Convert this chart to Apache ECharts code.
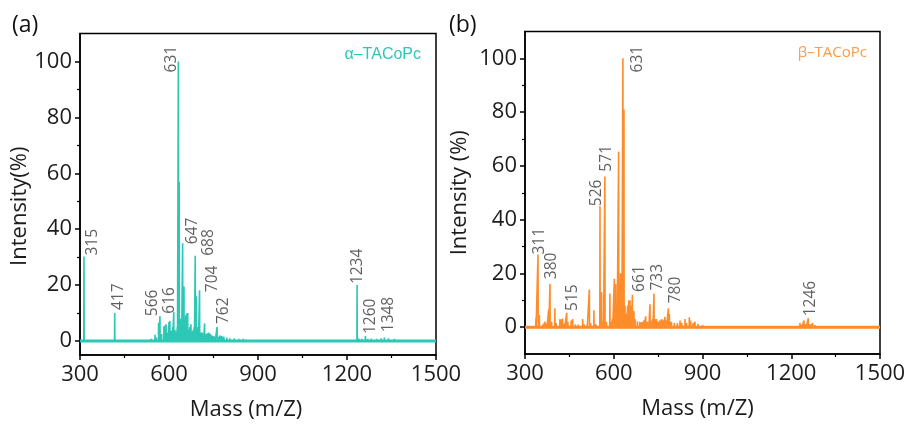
<!DOCTYPE html>
<html>
<head>
<meta charset="utf-8">
<script src="https://cdn.jsdelivr.net/npm/echarts@6/dist/echarts.min.js"></script>
<style>
  html, body { margin: 0; padding: 0; background: #fff; }
  #chart { width: 911px; height: 426px; }
</style>
</head>
<body>
<div id="chart"></div>
<script>
// MALDI-TOF mass spectra of the two tetra-amino cobalt phthalocyanines

// x-axis: mass range and labelled ticks
const massMin = 300;
const massMax = 1500;
const massTicks = [300, 600, 900, 1200, 1500];
// y-axis ticks (%)
const intensityTicks = [0, 20, 40, 60, 80, 100];
const intensityMinor = [10, 30, 50, 70, 90];

// (a) alpha isomer: peak positions (m/z) and relative intensity (%)
const alphaMass = [313.5, 325, 345, 380, 417, 430, 470, 500, 540, 553, 557, 565, 569.5, 575, 583, 587, 590, 596, 600, 603, 609, 612, 616, 620, 624, 628, 631.5, 634.5, 638, 642, 646, 650.5, 654, 657, 660, 663, 667, 670, 674, 678, 682, 685, 688.5, 692, 696, 699, 703, 707, 712, 716, 720, 725, 730, 735, 740, 745, 750, 755, 762, 767, 772, 778, 785, 795, 805, 820, 835, 850, 870, 890, 910, 950, 1190, 1210, 1225, 1234, 1240, 1250, 1262, 1270, 1282, 1300, 1315, 1326, 1340, 1360, 1380, 1400];
const alphaIntensity = [30.2, 0.6, 0.5, 0.5, 10, 0.5, 0.6, 0.6, 0.8, 2.2, 1.2, 6.5, 8.9, 2.5, 5.3, 5.5, 6, 3, 6.8, 7.2, 3.5, 5, 10.5, 4, 3, 5, 100, 57, 8, 4, 35, 19.5, 8, 9.2, 9.8, 10, 4, 5, 6, 3.5, 4, 5, 30.5, 16, 5, 3, 18.2, 3, 3, 2, 6.3, 2.5, 2.8, 3, 2.5, 2, 1.8, 1.5, 5, 1.5, 2, 1.8, 1.5, 1.2, 1, 1, 0.8, 0.8, 0.7, 0.6, 0.5, 0.4, 0.5, 0.6, 0.7, 20, 0.8, 0.8, 1.8, 0.8, 0.9, 0.8, 1, 1.2, 1, 0.8, 0.7, 0.6];
// annotated peaks of (a): which peak, and the text written beside it
const alphaLabelMass = [313.5, 417, 569.5, 616, 631.5, 646, 688.5, 703, 762, 1234, 1262, 1340];
const alphaLabelText = ['315', '417', '566', '616', '631', '647', '688', '704', '762', '1234', '1260', '1348'];

// (b) beta isomer: peak positions (m/z) and relative intensity (%)
const betaMass = [325, 337, 344, 348.5, 360, 367.5, 374, 380, 384.5, 390, 401, 405, 418, 422, 427, 434, 441, 445, 456, 461, 470, 480, 495, 500, 510, 517.5, 522, 533, 540, 553.5, 559, 565, 570, 575, 587, 590, 596, 602, 606.5, 611, 616.5, 619.5, 623, 627, 631, 634.5, 638, 643, 647, 651, 655, 659, 663, 668, 672, 680, 688, 695, 702, 708, 713, 718, 722.5, 727, 732, 736, 740, 745, 752, 756, 762, 768, 773, 778, 784.5, 788, 795, 805, 815, 824, 830, 841, 846, 855.5, 860, 868, 874.5, 885, 900, 920, 980, 1075, 1085, 1229.6, 1236, 1243, 1250, 1257.7, 1265, 1272, 1280, 1360, 1415];
const betaIntensity = [0.6, 3.5, 27, 4.5, 1, 2, 1.2, 6.5, 16, 2, 7, 1.5, 3, 2.8, 3.2, 1.2, 5.3, 2, 2.5, 3, 1, 1, 3, 1, 1, 14, 1.5, 6.3, 1, 45, 13, 2, 56, 2, 12.5, 2, 3, 18, 16, 3, 65.3, 4, 20, 3, 100, 81, 8, 5, 8, 10, 10, 8, 12, 6, 3, 2.2, 2, 1.8, 2.5, 4, 2, 1.8, 8.5, 2.5, 3, 12.5, 3, 3, 2, 2.5, 3, 2.5, 3.8, 2.5, 7, 5, 2, 1.5, 1.5, 2.5, 1.5, 3, 1.5, 3.7, 2.5, 1.5, 2, 1.2, 0.8, 0.6, 0.4, 0.5, 0.5, 1.5, 0.8, 2.5, 1, 3.3, 1, 1.5, 0.8, 0.5, 0.5];
const betaLabelMass = [344, 384.5, 441, 553.5, 570, 631, 663, 736, 784.5, 1257.7];
const betaLabelText = ['311', '380', '515', '526', '571', '631', '661', '733', '780', '1246'];

// label nudges in pixels [right, down] from the top of each annotated peak
const alphaLabelNudge = [[9, -1], [4, -3], [-7, 0], [-4, 2], [-7, 11], [10, 1], [13, 0], [13, 2], [7, -3], [0, -1], [5, -2], [0, -6]];
const betaLabelNudge = [[2, 0], [2, -5], [6, -2], [-3, 0], [2, -5], [15, 14], [7, -3], [4, -3], [7, -5], [2, -2]];

const TEAL = '#2dc7b6';
const ORANGE = '#ff8c2b';
const FONT = '"Open Sans", "DejaVu Sans", sans-serif';
const INK = '#1c1c1c';

// turn a peak list into a stick spectrum (each peak rises from and returns to zero)
function stickSpectrum(mass, inten) {
  const pts = [[massMin, 0]];
  for (let i = 0; i < mass.length; i++) {
    pts.push([mass[i] - 0.6, 0], [mass[i], inten[i]], [mass[i] + 0.6, 0]);
  }
  pts.push([massMax, 0]);
  return pts;
}

function peakLabels(labelMass, labelText, nudge, mass, inten) {
  return labelMass.map((m, i) => {
    const h = inten[mass.indexOf(m)];
    const d = nudge[i];
    return {
      value: [m, h],
      name: labelText[i],
      // offset is applied in the rotated frame of the label
      label: { offset: [-d[1], d[0]] }
    };
  });
}

function xAxisFor(gridIndex, namePad) {
  return {
    type: 'value', gridIndex, min: massMin, max: massMax, interval: 300,
    name: 'Mass (m/Z)', nameLocation: 'middle', nameGap: 44,
    nameTextStyle: { fontFamily: FONT, fontSize: 22, color: INK, padding: namePad },
    axisLine: { show: true, onZero: false, lineStyle: { color: '#000', width: 1.5 } },
    axisTick: { show: true, inside: false, length: 5, lineStyle: { color: '#000', width: 1.5 } },
    minorTick: { show: true, splitNumber: 2, length: 3, lineStyle: { color: '#000', width: 1.2 } },
    axisLabel: { fontFamily: FONT, fontSize: 22, color: INK, margin: 9,
      customValues: massTicks, formatter: v => String(v) },
    splitLine: { show: false }, minorSplitLine: { show: false }
  };
}

function yAxisFor(gridIndex, yMin, name, gap, namePad) {
  return [{
    type: 'value', gridIndex, min: yMin, max: 110,
    name, nameLocation: 'middle', nameGap: gap,
    nameTextStyle: { fontFamily: FONT, fontSize: 22, color: INK, padding: namePad },
    axisLine: { show: true, onZero: false, lineStyle: { color: '#000', width: 1.5 } },
    axisTick: { show: true, inside: false, length: 5, customValues: intensityTicks,
      lineStyle: { color: '#000', width: 1.5 } },
    axisLabel: { fontFamily: FONT, fontSize: 22, color: INK, margin: 8,
      customValues: intensityTicks, formatter: v => String(v) },
    splitLine: { show: false }
  }, {
    // minor ticks between the labelled values
    type: 'value', gridIndex, min: yMin, max: 110, position: 'left',
    axisLine: { show: false },
    axisTick: { show: true, inside: false, length: 3, customValues: intensityMinor,
      lineStyle: { color: '#000', width: 1.2 } },
    axisLabel: { show: false },
    splitLine: { show: false }
  }];
}

function spectrumSeries(idx, color, mass, inten) {
  return [{
    type: 'line', xAxisIndex: idx, yAxisIndex: idx * 2, silent: true,
    data: [[massMin, 0], [massMax, 0]], symbol: 'none',
    lineStyle: { color, width: 3 }, z: 2
  }, {
    type: 'line', xAxisIndex: idx, yAxisIndex: idx * 2, silent: true,
    data: stickSpectrum(mass, inten), symbol: 'none',
    lineStyle: { color, width: 1.6 }, z: 3
  }];
}

function labelSeries(idx, data) {
  return {
    type: 'scatter', xAxisIndex: idx, yAxisIndex: idx * 2, silent: true,
    symbolSize: 0, data, z: 5,
    label: {
      show: true, position: 'inside', rotate: 90, align: 'left', verticalAlign: 'middle',
      formatter: p => p.name,
      fontFamily: FONT, fontSize: 15.5, color: '#383838'
    }
  };
}

const chart = echarts.init(document.getElementById('chart'), null, { renderer: 'canvas' });

chart.setOption({
  animation: false,
  backgroundColor: '#fff',
  grid: [
    { left: 80, top: 33.5, right: 475, bottom: 69, show: true, borderColor: '#000', borderWidth: 1.5, containLabel: false },
    { left: 525, top: 31.5, right: 31, bottom: 72, show: true, borderColor: '#000', borderWidth: 1.5, containLabel: false }
  ],
  title: [
    { text: '(a)', left: 12, top: 14, padding: 0,
      textStyle: { fontFamily: FONT, fontSize: 23, fontWeight: 'normal', color: '#111' } },
    { text: '(b)', left: 449, top: 14, padding: 0,
      textStyle: { fontFamily: FONT, fontSize: 23, fontWeight: 'normal', color: '#111' } },
    { text: 'α–TACoPc', right: 490, top: 47, padding: 0,
      textStyle: { fontFamily: '"Liberation Sans", Arial, sans-serif', fontSize: 16, fontWeight: 'normal', color: TEAL } },
    { text: 'β–TACoPc', right: 44, top: 45, padding: 0,
      textStyle: { fontFamily: FONT, fontSize: 15, fontWeight: 'normal', color: '#ff9a45' } }
  ],
  xAxis: [xAxisFor(0, [0, 24, 0, 0]), xAxisFor(1, [0, 10, 0, 0])],
  yAxis: [
    ...yAxisFor(0, -5, 'Intensity(%)', 47, [0, 24, 0, 0]),
    ...yAxisFor(1, -10, 'Intensity (%)', 54, 0)
  ],
  series: [
    ...spectrumSeries(0, TEAL, alphaMass, alphaIntensity),
    ...spectrumSeries(1, ORANGE, betaMass, betaIntensity),
    labelSeries(0, peakLabels(alphaLabelMass, alphaLabelText, alphaLabelNudge, alphaMass, alphaIntensity)),
    labelSeries(1, peakLabels(betaLabelMass, betaLabelText, betaLabelNudge, betaMass, betaIntensity))
  ]
});
</script>
</body>
</html>
